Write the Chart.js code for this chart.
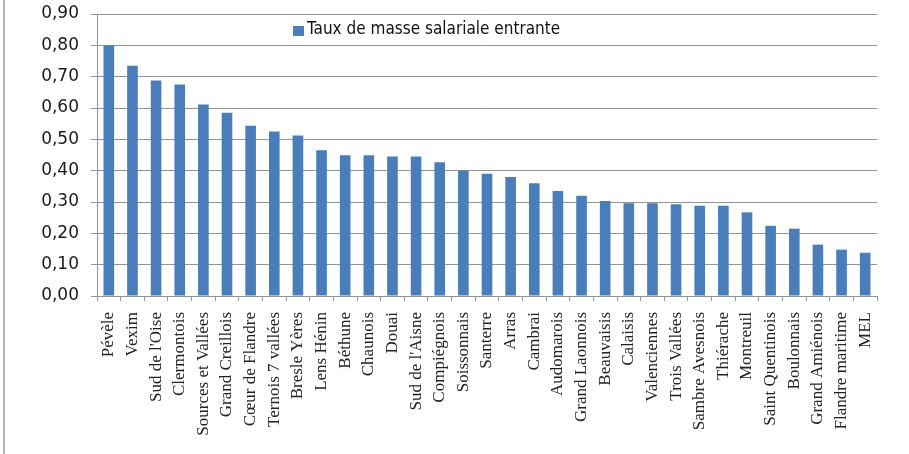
<!DOCTYPE html>
<html>
<head>
<meta charset="utf-8">
<script src="https://cdn.jsdelivr.net/npm/chart.js@4/dist/chart.umd.min.js"></script>
<style>
  html, body { margin: 0; padding: 0; background: #fff; }
  #wrap { position: relative; width: 909px; height: 454px; }
  #edge { position: absolute; left: 3px; top: 0; width: 2px; height: 454px; background: #b4b4b4; }
</style>
</head>
<body>
<div id="wrap">
  <canvas id="myChart" width="909" height="454"></canvas>
  <div id="edge"></div>
</div>
<script>
const seriesLabel = "Taux de masse salariale entrante";

const categories = [
  "Pévèle", "Vexim", "Sud de l'Oise", "Clermontois", "Sources et Vallées",
  "Grand Creillois", "Cœur de Flandre", "Ternois 7 vallées", "Bresle Yères",
  "Lens Hénin", "Béthune", "Chaunois", "Douai", "Sud de l'Aisne", "Compiégnois",
  "Soissonnais", "Santerre", "Arras", "Cambrai", "Audomarois", "Grand Laonnois",
  "Beauvaisis", "Calaisis", "Valenciennes", "Trois Vallées", "Sambre Avesnois",
  "Thiérache", "Montreuil", "Saint Quentinois", "Boulonnais", "Grand Amiénois",
  "Flandre maritime", "MEL"
];

const values = [
  0.800, 0.735, 0.688, 0.675, 0.611, 0.585, 0.543, 0.525, 0.512, 0.465,
  0.449, 0.449, 0.445, 0.445, 0.427, 0.400, 0.390, 0.380, 0.360, 0.335,
  0.320, 0.303, 0.296, 0.296, 0.293, 0.288, 0.288, 0.267, 0.224, 0.215,
  0.164, 0.148, 0.138
];

const yTicks = [0, 0.1, 0.2, 0.3, 0.4, 0.5, 0.6, 0.7, 0.8, 0.9];

const barColor = "#4a7ebb";
const gridColor = "#949494";

// legend sits inside the plot, drawn by hand
const innerLegend = {
  id: "innerLegend",
  afterDraw(chart) {
    const ctx = chart.ctx;
    const ds = chart.data.datasets[0];
    ctx.save();
    ctx.fillStyle = ds.backgroundColor;
    ctx.fillRect(293, 26, 11, 10);
    ctx.fillStyle = "#111";
    ctx.font = "17px 'Liberation Sans Narrow', 'DejaVu Sans Condensed', sans-serif";
    ctx.textBaseline = "middle";
    ctx.fillText(ds.label, 307, 30);
    ctx.restore();
  }
};

new Chart(document.getElementById("myChart"), {
  type: "bar",
  data: {
    labels: categories,
    datasets: [{
      label: seriesLabel,
      data: values,
      backgroundColor: barColor,
      barPercentage: 0.45,
      categoryPercentage: 1.0
    }]
  },
  options: {
    responsive: false,
    animation: false,
    layout: { padding: { left: 0, right: 32, top: 14, bottom: 0 } },
    plugins: {
      legend: { display: false },
      tooltip: { enabled: false }
    },
    scales: {
      x: {
        grid: {
          offset: true,
          drawOnChartArea: false,
          color: gridColor,
          tickLength: 5
        },
        border: { color: gridColor },
        ticks: {
          autoSkip: false,
          minRotation: 90,
          maxRotation: 90,
          padding: 11,
          color: "#222",
          font: { family: "'Liberation Serif', serif", size: 17 }
        },
        afterFit(scale) { scale.height = 158; }
      },
      y: {
        min: 0,
        max: 0.9,
        afterBuildTicks(scale) {
          scale.ticks = yTicks.map(v => ({ value: v }));
        },
        grid: { color: gridColor, tickLength: 6 },
        border: { color: gridColor },
        ticks: {
          padding: 12,
          color: "#1a1a1a",
          font: { family: "'DejaVu Sans', sans-serif", size: 17 },
          callback: v => v.toFixed(2).replace(".", ",")
        },
        afterFit(scale) {
          scale.width = 97;
          scale.paddingTop = 0;
          scale.paddingBottom = 0;
        }
      }
    }
  },
  plugins: [innerLegend]
});
</script>
</body>
</html>
